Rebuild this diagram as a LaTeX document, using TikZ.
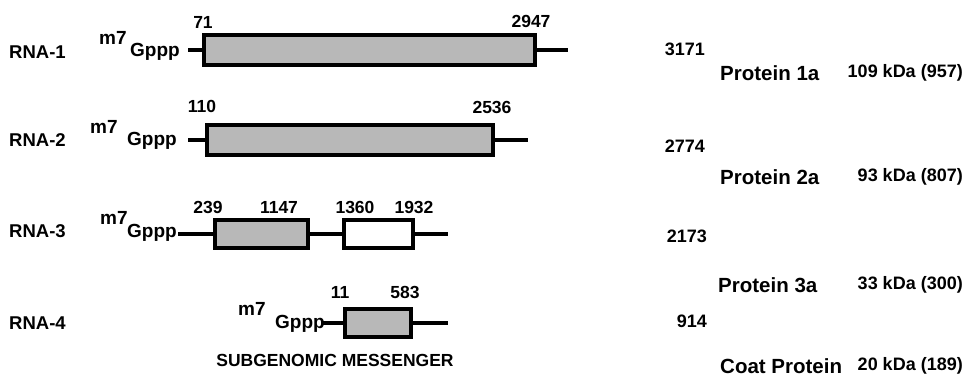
\documentclass[tikz,border=0pt]{standalone}
\usepackage{fontspec}
\setmainfont{Liberation Sans}
\begin{document}
\begin{tikzpicture}[x=1pt, y=-1pt,
    every node/.style={inner sep=0pt},
    rnalabel/.style={anchor=west, font=\fontsize{18.5}{21}\selectfont\bfseries},
    capsite/.style={anchor=west, font=\fontsize{19}{21}\selectfont\bfseries},
    nt/.style={font=\fontsize{17.5}{20}\selectfont\bfseries},
    ntlen/.style={anchor=east, font=\fontsize{18}{20}\selectfont\bfseries},
    prot/.style={anchor=west, font=\fontsize{20.5}{22}\selectfont\bfseries},
    kda/.style={anchor=east, font=\fontsize{18}{20}\selectfont\bfseries},
    orf/.style={draw, line width=4pt, fill=black!28},
    strand/.style={line width=3.5pt}]
    \useasboundingbox (0,0) rectangle (972,378);

    \node[rnalabel] (rna1) at (9,52) {RNA-1};
    \node[rnalabel] (rna2) at (9,140) {RNA-2};
    \node[rnalabel] (rna3) at (9,231) {RNA-3};
    \node[rnalabel] (rna4) at (9,323) {RNA-4};

    \node[capsite] (m1) at (99,38) {m7};
    \node[capsite] (gppp1) at (130,51.5) {Gppp};
    \node[capsite] (m2) at (90,127) {m7};
    \node[capsite] (gppp2) at (127,140.5) {Gppp};
    \node[capsite] (m3) at (100,218) {m7};
    \node[capsite] (gppp3) at (127,232.5) {Gppp};
    \node[capsite] (m4) at (238,309) {m7};
    \node[capsite] (gppp4) at (275,323.5) {Gppp};

    \node[orf, minimum width=331, minimum height=30] (orf1) at (369.5,50) {};
    \node[orf, minimum width=286, minimum height=30] (orf2) at (350,140) {};
    \node[orf, minimum width=93, minimum height=28] (orf3a) at (261.5,234) {};
    \node[orf, fill=white, minimum width=69, minimum height=28] (orf3b) at (378.5,234) {};
    \node[orf, minimum width=66, minimum height=28] (orf4) at (378,323) {};

    \coordinate (start1) at (188,50);
    \coordinate (end1) at (568,50);
    \coordinate (start2) at (188,140);
    \coordinate (end2) at (528,140);
    \coordinate (start3) at (178,234);
    \coordinate (end3) at (448,234);
    \coordinate (start4) at (321,323);
    \coordinate (end4) at (448,323);

    \draw[strand] (start1) -- (orf1.west);
    \draw[strand] (orf1.east) -- (end1);
    \draw[strand] (start2) -- (orf2.west);
    \draw[strand] (orf2.east) -- (end2);
    \draw[strand] (start3) -- (orf3a.west);
    \draw[strand] (orf3a.east) -- (orf3b.west);
    \draw[strand] (orf3b.east) -- (end3);
    \draw[strand] (start4) -- (orf4.west);
    \draw[strand] (orf4.east) -- (end4);

    \node[nt] (n71) at (203,22) {71};
    \node[nt] (n2947) at (531,21) {2947};
    \node[nt] (n110) at (202,106) {110};
    \node[nt] (n2536) at (492,107) {2536};
    \node[nt] (n239) at (208,207) {239};
    \node[nt] (n1147) at (279,207) {1147};
    \node[nt] (n1360) at (355,207) {1360};
    \node[nt] (n1932) at (414,207) {1932};
    \node[nt] (n11) at (340,292) {11};
    \node[nt] (n583) at (405,292) {583};

    \node[nt] (sgm) at (335,360) {SUBGENOMIC MESSENGER};

    \node[ntlen] (len1) at (705,49) {3171};
    \node[ntlen] (len2) at (705,146) {2774};
    \node[ntlen] (len3) at (707,236) {2173};
    \node[ntlen] (len4) at (707,321) {914};

    \node[prot] (prot1) at (720,73) {Protein 1a};
    \node[prot] (prot2) at (720,177) {Protein 2a};
    \node[prot] (prot3) at (718,285) {Protein 3a};
    \node[prot] (prot4) at (720,366) {Coat Protein};

    \node[kda] (kda1) at (963,73) {109 kDa (957)};
    \node[kda] (kda2) at (963,177) {93 kDa (807)};
    \node[kda] (kda3) at (963,285) {33 kDa (300)};
    \node[kda] (kda4) at (963,366) {20 kDa (189)};
\end{tikzpicture}
\end{document}
